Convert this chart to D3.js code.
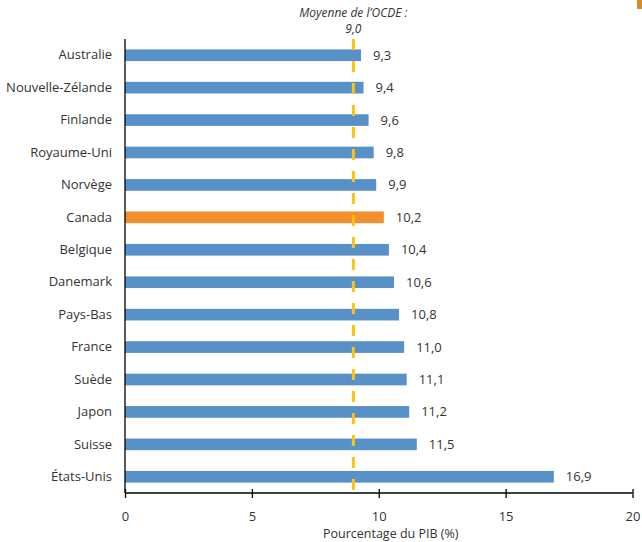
<!DOCTYPE html>
<html><head><meta charset="utf-8">
<script src="https://cdn.jsdelivr.net/npm/d3@7"></script>
<style>body{margin:0;background:#fff}svg{display:block}text{font-family:"Open Sans",sans-serif;fill:#333}</style>
</head><body><svg id="c" width="642" height="542"></svg>
<script>
const categories = ["Australie","Nouvelle-Zélande","Finlande","Royaume-Uni","Norvège","Canada","Belgique","Danemark","Pays-Bas","France","Suède","Japon","Suisse","États-Unis"];
const values = [9.3,9.4,9.6,9.8,9.9,10.2,10.4,10.6,10.8,11.0,11.1,11.2,11.5,16.9];
const highlight = "Canada";
const oecdAverage = 9.0;
const xTicks = [0,5,10,15,20];
const xTitle = "Pourcentage du PIB (%)";
const avgLabel = ["Moyenne de l’OCDE :","9,0"];

const svg = d3.select("#c");
const m = {left:125, right:10, top:39, bottom:49};
const W = 642, H = 542;
const x = d3.scaleLinear().domain([0,20]).range([m.left, 632.5]);
const y = d3.scaleBand().domain(categories).range([m.top, H - m.bottom]).paddingInner(0.64).paddingOuter(0.32);
const fmt = v => d3.format(".1f")(v).replace(".", ",");

// bars
svg.append("g").selectAll("rect").data(categories).join("rect")
  .attr("x", x(0)).attr("y", d => y(d))
  .attr("width", (d,i) => x(values[i]) - x(0))
  .attr("height", y.bandwidth())
  .attr("fill", d => d === highlight ? "#F28E2E" : "#5891C8");

// value labels
svg.append("g").selectAll("text").data(categories).join("text")
  .attr("x", (d,i) => x(values[i]) + 12)
  .attr("y", d => y(d) + y.bandwidth()/2 + 4.5)
  .attr("font-size", 13).attr("fill","#404040")
  .text((d,i) => fmt(values[i]));

// y axis
const ya = svg.append("g").attr("transform", `translate(${x(0)},0)`)
  .call(d3.axisLeft(y).tickSize(0).tickPadding(13));
ya.select(".domain").attr("stroke","#000").attr("stroke-width",1.3).attr("d", `M0,${m.top}V${H-m.bottom}`);
ya.selectAll("text").attr("font-size",13).attr("font-family","'Open Sans',sans-serif").attr("fill","#000");

// x axis
const xa = svg.append("g").attr("transform", `translate(0,${H-m.bottom})`)
  .call(d3.axisBottom(x).tickValues(xTicks).tickSize(5).tickPadding(14).tickFormat(d => d));
xa.select(".domain").attr("stroke","#000").attr("stroke-width",1.3).attr("d", `M${x(0)},0H${x(20)}`);
xa.selectAll(".tick line").attr("y1",-4).attr("y2",5).attr("stroke","#000").attr("stroke-width",1.3);
xa.selectAll("text").attr("font-size",13).attr("font-family","'Open Sans',sans-serif").attr("fill","#000");

svg.append("text").attr("x", (x(0)+x(20))/2 + 12).attr("y", 538)
  .attr("text-anchor","middle").attr("font-size",12.5).attr("fill","#000").text(xTitle);

// OECD average dashed line
svg.append("line").attr("x1", x(oecdAverage)).attr("x2", x(oecdAverage))
  .attr("y1", m.top).attr("y2", H - m.bottom)
  .attr("stroke","#FFC20E").attr("stroke-width",3).attr("stroke-dasharray","11,11");

svg.append("g").selectAll("text").data(avgLabel).join("text")
  .attr("x", x(oecdAverage)).attr("y", (d,i) => 16.5 + i*16.5)
  .attr("text-anchor","middle").attr("font-style","italic").attr("font-size",12)
  .attr("fill","#333").text(d => d);

// cropped marker top-right
svg.append("rect").attr("x",637).attr("y",0).attr("width",5).attr("height",9).attr("fill","#D38D2E");
</script></body></html>
